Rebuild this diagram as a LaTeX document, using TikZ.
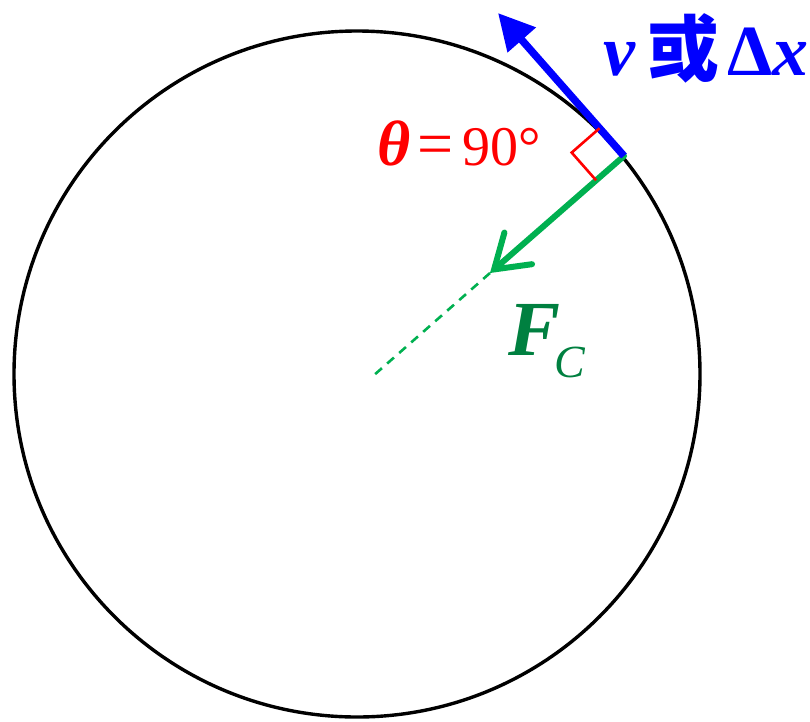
\documentclass[tikz,border=0pt]{standalone}
\usepackage{fontspec}
\setmainfont{Liberation Serif}
\newfontfamily\cjkfont{Noto Sans CJK SC}
\usetikzlibrary{arrows.meta, positioning, calc}
\definecolor{velblue}{RGB}{0, 0, 255}
\definecolor{forcegreen}{RGB}{0, 176, 80}
\definecolor{labelgreen}{RGB}{0, 128, 64}
\definecolor{anglered}{RGB}{255, 0, 0}

\begin{document}
\begin{tikzpicture}[x=1pt, y=-1pt,
    lbl/.style={anchor=base west, inner sep=0pt}]
    \useasboundingbox (0,0) rectangle (810,721);
    \coordinate (O) at (357,374);
    \coordinate (P) at (624,156);
    \coordinate (vtip) at (498,13);
    \coordinate (ftip) at (490,273);
    \coordinate (dend) at (373,376);
    % orbit
    \draw[line width=3.4pt] (O) circle[radius=343pt];
    % centripetal force and its line to the centre
    \draw[forcegreen, line width=2.6pt, dash pattern=on 9pt off 7pt] (ftip) -- (dend);
    \draw[forcegreen, line width=6pt, line cap=round,
          -{Straight Barb[length=32pt, width=42pt, line cap=round]}] (P) -- (ftip);
    % velocity
    \draw[velblue, line width=7.5pt, -{Triangle[length=36pt, width=36pt]}] (P) -- (vtip);
    % right angle mark
    \coordinate (ra1) at ($(P)!37pt!(vtip)$);
    \coordinate (ra3) at ($(P)!37pt!(ftip)$);
    \draw[anglered, line width=2.6pt] (ra1) -- ($(ra1)+(ra3)-(P)$) -- (ra3);
    % labels
    \node[lbl, anglered] (anglelabel) at (377,165)
        {\fontsize{56}{56}\selectfont{\fontsize{64}{64}\selectfont\textbf{\textit{θ}}}\hspace{7pt}{\fontsize{64}{64}\selectfont=}\hspace{9pt}90°};
    \node[lbl, velblue] (vellabel) at (603,75)
        {\fontsize{72}{72}\selectfont\bfseries\itshape v\hspace{12pt}{\upshape\cjkfont 或}\hspace{8pt}{\upshape Δ}x};
    \node[lbl, labelgreen] (forcelabel) at (508,355)
        {\fontsize{78}{78}\selectfont\textbf{\textit{F}}\hspace{-6pt}\raisebox{-22pt}{\fontsize{46}{46}\selectfont\textit{C}}};
\end{tikzpicture}
\end{document}
